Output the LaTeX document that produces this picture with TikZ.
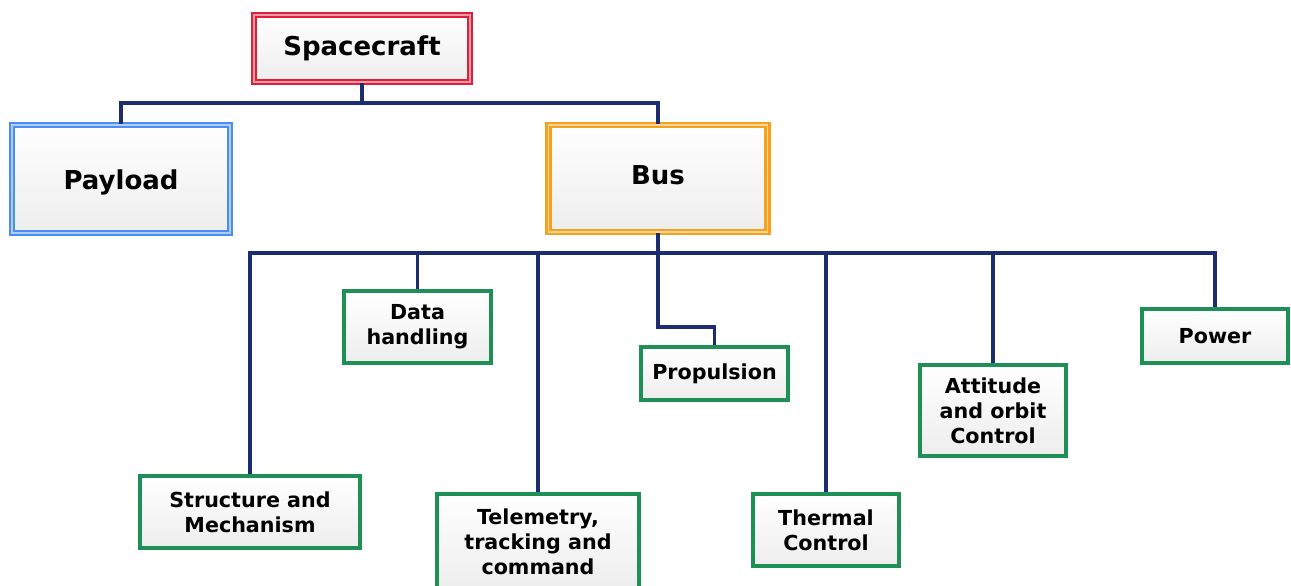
\documentclass[tikz,border=0pt]{standalone}
\usepackage{fontspec}
\setmainfont{DejaVu Sans}
\usetikzlibrary{shadows}
\definecolor{cred}{HTML}{E0203A}
\definecolor{cblue}{HTML}{4A8FF0}
\definecolor{corange}{HTML}{F4A21E}
\definecolor{cgreen}{HTML}{1E8F55}
\definecolor{cline}{HTML}{1B2D6E}
\tikzset{
  box/.style={rectangle, inner sep=0pt, align=center, font=\bfseries,
    top color=white, bottom color=black!7,
    drop shadow={shadow xshift=1.5pt, shadow yshift=-1.5pt, opacity=0.18}},
  topbox/.style={box, draw=#1, line width=1.9pt, double=#1!45!white, double distance=1.0pt,
    font=\bfseries\fontsize{19.5}{22}\selectfont},
  leaf/.style={box, draw=cgreen, line width=3.2pt, font=\bfseries\fontsize{15.5}{18.75}\selectfont},
  link/.style={draw=cline, line width=2.8pt}
}
\begin{document}
\begin{tikzpicture}[x=0.75pt,y=-0.75pt]
\useasboundingbox (0,0) rectangle (1291,585);
\node[topbox=cred, minimum width=216*0.75pt, minimum height=67*0.75pt] (sc) at (362,48.5) {Spacecraft};
\node[topbox=cblue, minimum width=218*0.75pt, minimum height=108*0.75pt] (pl) at (121,179) {\raisebox{-7.5pt}[0pt][0pt]{Payload}};
\node[topbox=corange, minimum width=219*0.75pt, minimum height=107*0.75pt] (bus) at (658,178.5) {\raisebox{-4.4pt}[0pt][0pt]{Bus}};
\node[leaf, minimum width=220*0.75pt, minimum height=72*0.75pt] (st) at (250,512) {Structure and\\Mechanism};
\node[leaf, minimum width=147*0.75pt, minimum height=72*0.75pt] (dh) at (417.5,327) {Data\\handling};
\node[leaf, minimum width=202*0.75pt, minimum height=96*0.75pt] (tm) at (538,542) {Telemetry,\\tracking and\\command};
\node[leaf, minimum width=147*0.75pt, minimum height=53*0.75pt] (pr) at (714.5,373.5) {Propulsion};
\node[leaf, minimum width=146*0.75pt, minimum height=72*0.75pt] (th) at (826,530) {Thermal\\Control};
\node[leaf, minimum width=146*0.75pt, minimum height=91*0.75pt] (ao) at (993,410.5) {Attitude\\and orbit\\Control};
\node[leaf, minimum width=146*0.75pt, minimum height=54*0.75pt] (pw) at (1215,336) {Power};
\coordinate (j1) at (362,103);
\coordinate (j2) at (658,253);
\coordinate (j3) at (658,327);
\draw[link] (sc.south) -- (j1) -| (pl.north);
\draw[link] (j1) -| (bus.north);
\draw[link] (bus.south) -- (j2);
\draw[link] (j2) -| (st.north);
\draw[link] (j2) -| (dh.north);
\draw[link] (j2) -| (tm.north);
\draw[link] (j2) -- (j3) -| (pr.north);
\draw[link] (j2) -| (th.north);
\draw[link] (j2) -| (ao.north);
\draw[link] (j2) -| (pw.north);
\end{tikzpicture}
\end{document}
